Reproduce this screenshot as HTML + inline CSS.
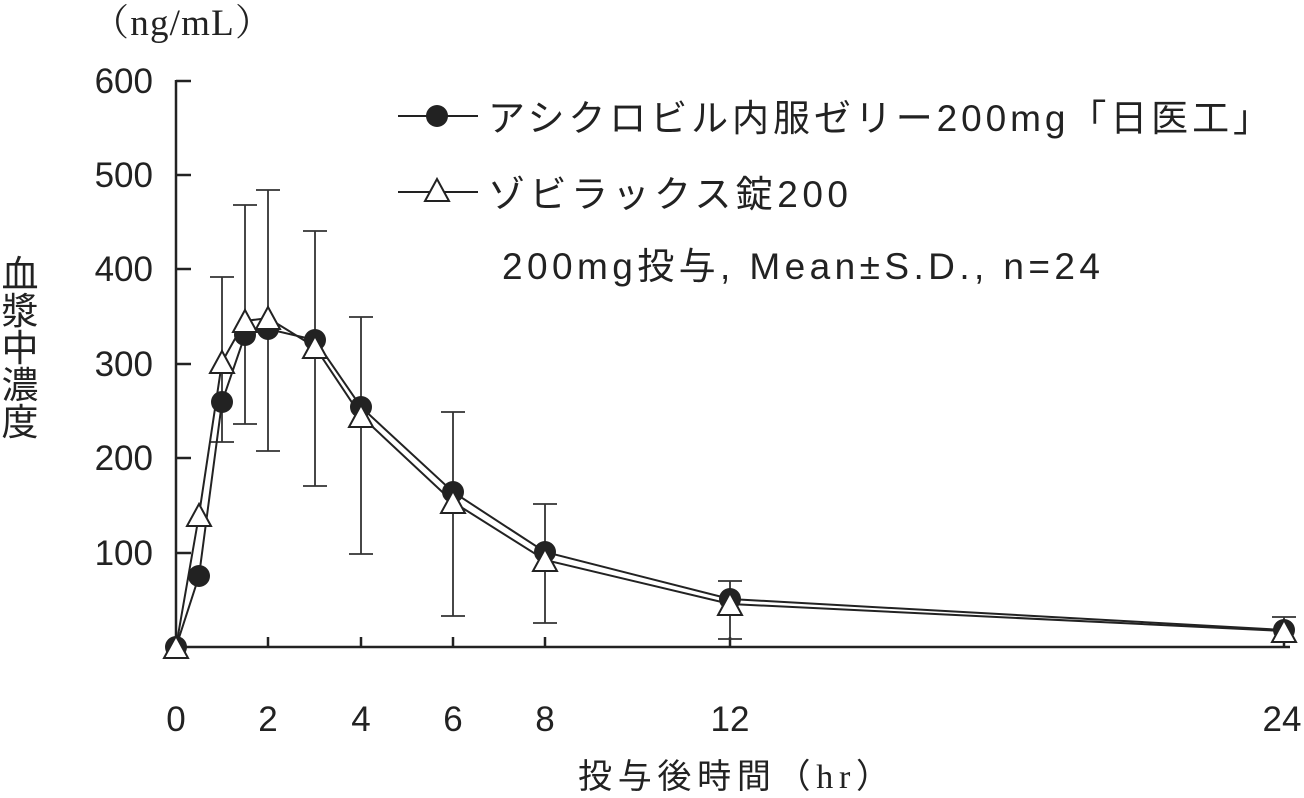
<!DOCTYPE html>
<html><head><meta charset="utf-8"><style>
body{margin:0;background:#fff}
svg{display:block}
text{font-family:"Liberation Sans","Noto Sans CJK JP",sans-serif;fill:#222}
</style></head><body>
<svg width="1304" height="798" viewBox="0 0 1304 798" xmlns="http://www.w3.org/2000/svg">
<g stroke="#222" stroke-width="2.5" fill="none">
<path d="M176 80V647H1290"/>
<path d="M176 81H191M176 175H191M176 269H191M176 364H191M176 458H191M176 553H191"/>
<path d="M268 647V637M361 647V637M453 647V637M545 647V637M730 647V637M1284 647V637"/>
</g>
<g stroke="#333" stroke-width="1.8">
<path d="M222 277V442M210 277H234M210 442H234"/>
<path d="M245 205V424M233 205H257M233 424H257"/>
<path d="M268 190V451M256 190H280M256 451H280"/>
<path d="M315 231V486M303 231H327M303 486H327"/>
<path d="M361 317V554M349 317H373M349 554H373"/>
<path d="M453 412V616M441 412H465M441 616H465"/>
<path d="M545 504V623M533 504H557M533 623H557"/>
<path d="M730 581V639M718 581H742M718 639H742"/>
<path d="M1284 617V642M1272 617H1296M1272 642H1296"/>
</g>
<polyline fill="none" stroke="#222" stroke-width="2" points="176,647 199,576 222,402 245,335 268,329 315,340 361,407 453,492 545,552 730,599 1284,630"/>
<polyline fill="none" stroke="#222" stroke-width="2" points="176,647 199,515 222,362 245,321 268,318 315,347 361,416 453,502 545,560 730,604 1284,631"/>
<g fill="#222">
<circle cx="176" cy="647" r="11"/><circle cx="199" cy="576" r="11"/><circle cx="222" cy="402" r="11"/><circle cx="245" cy="335" r="11"/><circle cx="268" cy="329" r="11"/><circle cx="315" cy="340" r="11"/><circle cx="361" cy="407" r="11"/><circle cx="453" cy="492" r="11"/><circle cx="545" cy="552" r="11"/><circle cx="730" cy="599" r="11"/><circle cx="1284" cy="630" r="11"/>
</g>
<g fill="#fff" stroke="#222" stroke-width="2">
<polygon points="176,636 188,658 164,658"/><polygon points="199,504 211,526 187,526"/><polygon points="222,351 234,373 210,373"/><polygon points="245,310 257,332 233,332"/><polygon points="268,307 280,329 256,329"/><polygon points="315,336 327,358 303,358"/><polygon points="361,405 373,427 349,427"/><polygon points="453,491 465,513 441,513"/><polygon points="545,549 557,571 533,571"/><polygon points="730,593 742,615 718,615"/><polygon points="1284,620 1296,642 1272,642"/>
</g>
<g font-size="35" text-anchor="end">
<text x="153" y="93">600</text><text x="153" y="187">500</text><text x="153" y="281">400</text><text x="153" y="376">300</text><text x="153" y="470">200</text><text x="153" y="565">100</text>
</g>
<g font-size="35" text-anchor="middle">
<text x="176" y="731">0</text><text x="268" y="731">2</text><text x="361" y="731">4</text><text x="453" y="731">6</text><text x="545" y="731">8</text><text x="730" y="731">12</text><text x="1282" y="731">24</text>
</g>
<text x="92" y="35" font-size="37" textLength="180" style="font-family:'Liberation Serif','Noto Serif CJK SC',serif">（ng/mL）</text>
<text x="578" y="788" font-size="34" textLength="312">投与後時間（<tspan style="font-family:'Liberation Serif',serif">hr</tspan>）</text>
<g font-size="37" text-anchor="middle"><text x="20" y="287">血</text><text x="20" y="324">漿</text><text x="20" y="361">中</text><text x="20" y="398">濃</text><text x="20" y="435">度</text></g>
<g stroke="#222" stroke-width="2"><path d="M398 116H478M398 192H478"/></g>
<circle cx="437" cy="116" r="11" fill="#222"/>
<polygon points="437,179 449,201 425,201" fill="#fff" stroke="#222" stroke-width="2"/>
<text x="488" y="131" font-size="37" textLength="782">アシクロビル内服ゼリー200mg「日医工」</text>
<text x="488" y="207" font-size="37" textLength="360">ゾビラックス錠200</text>
<text x="502" y="279" font-size="37" textLength="598">200mg投与, Mean±S.D., n=24</text>
</svg>
</body></html>
